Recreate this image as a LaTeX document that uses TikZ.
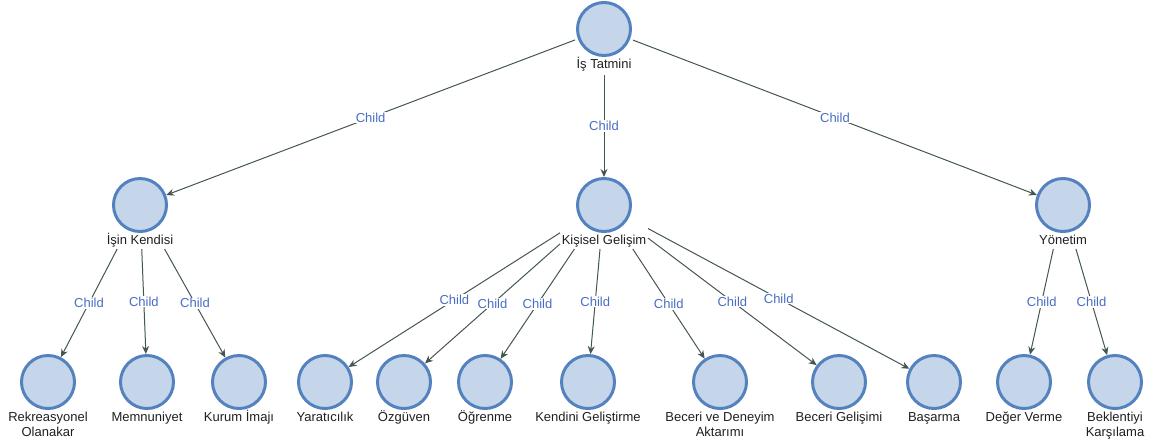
\documentclass[tikz,border=0pt]{standalone}
\usepackage{fontspec}
\setmainfont{Liberation Sans}
\usetikzlibrary{arrows.meta}

\definecolor{ringblue}{RGB}{84,130,190}
\definecolor{fillblue}{RGB}{198,214,234}
\definecolor{edgegray}{RGB}{68,86,80}
\definecolor{childblue}{RGB}{72,110,196}

% two-line caption, baseline on the first line
\newcommand\twoline[2]{\begin{tabular}[t]{@{}c@{}}#1\\#2\end{tabular}}

\tikzset{
  bubble/.style={circle, draw=ringblue, fill=fillblue, line width=3pt,
                 minimum size=53pt, inner sep=0pt},
  caption/.style={anchor=base, inner sep=0pt, text=black!88,
                  font=\fontsize{13}{15}\selectfont},
  % invisible box around circle and caption, used to clip outgoing links
  outbox/.style 2 args={rectangle, inner sep=0pt, outer sep=0pt,
                        minimum width=#1, minimum height=#2},
  link/.style={draw=edgegray, line width=1pt,
               -{Stealth[length=8pt,width=7pt]}},
  tag/.style={fill=white, inner sep=1pt, text=childblue,
              font=\fontsize{13}{15}\selectfont},
}

\begin{document}
\begin{tikzpicture}[x=1pt, y=-1pt]
\useasboundingbox (0,0) rectangle (1155,445);

% root
\node[bubble] (T) at (604,29) {};
\node[caption] (T-l) at (604,68) {İş Tatmini};
\node[outbox={58pt}{92pt}] (T-o) at (T) {};

% second level
\node[bubble] (A) at (140,205) {};
\node[caption] (A-l) at (140,244) {İşin Kendisi};
\node[outbox={68pt}{88pt}] (A-o) at (A) {};

\node[bubble] (B) at (604,205) {};
\node[caption] (B-l) at (604,244) {Kişisel Gelişim};
\node[outbox={88pt}{88pt}] (B-o) at (B) {};

\node[bubble] (C) at (1063,205) {};
\node[caption] (C-l) at (1063,244) {Yönetim};
\node[outbox={56pt}{88pt}] (C-o) at (C) {};

% third level
\node[bubble] (A1) at (48,382) {};
\node[caption] (A1-l) at (48,421) {\twoline{Rekreasyonel}{Olanakar}};
\node[bubble] (A2) at (147,382) {};
\node[caption] (A2-l) at (147,421) {Memnuniyet};
\node[bubble] (A3) at (239,382) {};
\node[caption] (A3-l) at (239,421) {Kurum İmajı};

\node[bubble] (B1) at (325,382) {};
\node[caption] (B1-l) at (325,421) {Yaratıcılık};
\node[bubble] (B2) at (404,382) {};
\node[caption] (B2-l) at (404,421) {Özgüven};
\node[bubble] (B3) at (485,382) {};
\node[caption] (B3-l) at (485,421) {Öğrenme};
\node[bubble] (B4) at (588,382) {};
\node[caption] (B4-l) at (588,421) {Kendini Geliştirme};
\node[bubble] (B5) at (720,382) {};
\node[caption] (B5-l) at (720,421) {\twoline{Beceri ve Deneyim}{Aktarımı}};
\node[bubble] (B6) at (839,382) {};
\node[caption] (B6-l) at (839,421) {Beceri Gelişimi};
\node[bubble] (B7) at (934,382) {};
\node[caption] (B7-l) at (934,421) {Başarma};

\node[bubble] (C1) at (1024,382) {};
\node[caption] (C1-l) at (1024,421) {Değer Verme};
\node[bubble] (C2) at (1115,382) {};
\node[caption] (C2-l) at (1115,421) {\twoline{Beklentiyi}{Karşılama}};

% links
\foreach \c in {A,B,C}
  \draw[link] (T-o) -- node[tag] {Child} (\c);
\foreach \c in {A1,A2,A3}
  \draw[link] (A-o) -- node[tag] {Child} (\c);
\foreach \c in {B1,B2,B3,B4,B5,B6,B7}
  \draw[link] (B-o) -- node[tag] {Child} (\c);
\foreach \c in {C1,C2}
  \draw[link] (C-o) -- node[tag] {Child} (\c);
\end{tikzpicture}
\end{document}
